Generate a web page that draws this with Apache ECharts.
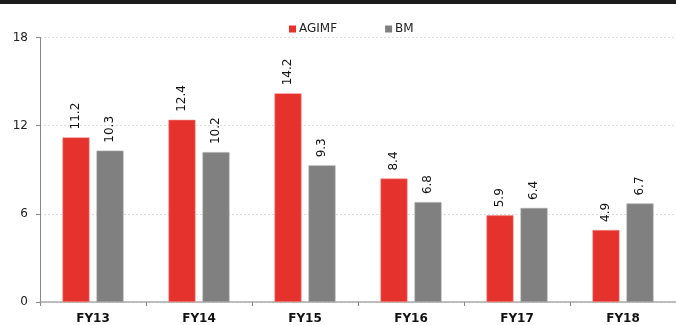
<!DOCTYPE html>
<html>
<head>
<meta charset="utf-8">
<script src="https://cdn.jsdelivr.net/npm/echarts@6/dist/echarts.min.js"></script>
<style>
  html, body { margin: 0; padding: 0; background: #fff; }
  #chart { width: 676px; height: 325px; }
</style>
</head>
<body>
<div id="chart"></div>
<script>
// Fiscal years on the category axis
const categories = ['FY13', 'FY14', 'FY15', 'FY16', 'FY17', 'FY18'];
// Series values
const agimf = [11.2, 12.4, 14.2, 8.4, 5.9, 4.9];
const bm = [10.3, 10.2, 9.3, 6.8, 6.4, 6.7];
// Value axis ticks
const yTicks = [0, 6, 12, 18];

const FONT = '"DejaVu Sans", Verdana, sans-serif';

const chart = echarts.init(document.getElementById('chart'), null, { renderer: 'canvas' });

const valueLabel = {
  show: true,
  position: 'top',
  rotate: 90,
  align: 'left',
  verticalAlign: 'middle',
  distance: 8,
  color: '#111',
  fontSize: 12,
  fontFamily: FONT,
  formatter: p => p.value.toFixed(1)
};

chart.setOption({
  animation: false,
  graphic: [{
    type: 'rect',
    shape: { x: 0, y: 0, width: 676, height: 4 },
    style: { fill: '#1c1c1c' },
    silent: true
  }],
  legend: {
    left: 284,
    top: 18,
    itemWidth: 7,
    itemHeight: 7,
    itemGap: 48,
    icon: 'rect',
    itemStyle: { borderWidth: 0 },
    textStyle: { fontFamily: FONT, fontSize: 12, color: '#222', padding: [0, 0, 0, -2] },
    data: ['AGIMF', 'BM']
  },
  grid: { left: 40, top: 37.5, width: 642, height: 264.5, containLabel: false },
  xAxis: {
    type: 'category',
    data: categories,
    axisLine: { lineStyle: { color: '#aaa', width: 1.5 } },
    axisTick: { show: true, length: 4, lineStyle: { color: '#888' } },
    axisLabel: {
      fontFamily: FONT, fontSize: 12, fontWeight: 'bold', color: '#111', margin: 11
    }
  },
  yAxis: {
    type: 'value',
    min: yTicks[0],
    max: yTicks[yTicks.length - 1],
    interval: yTicks[1] - yTicks[0],
    axisLine: { show: true, lineStyle: { color: '#888' } },
    axisTick: { show: true, length: 4, lineStyle: { color: '#888' } },
    axisLabel: { fontFamily: FONT, fontSize: 12, color: '#222', margin: 12 },
    splitLine: { lineStyle: { color: '#dcdcdc', type: [2, 2] } }
  },
  series: [
    {
      name: 'AGIMF',
      type: 'bar',
      data: agimf,
      barWidth: 27,
      barGap: '26%',
      itemStyle: { color: '#e5322d', borderColor: '#f08a86', borderWidth: 0.6 },
      label: valueLabel
    },
    {
      name: 'BM',
      type: 'bar',
      data: bm,
      barWidth: 27,
      barGap: '26%',
      itemStyle: { color: '#808080', borderColor: '#a8a8a8', borderWidth: 0.6 },
      label: valueLabel
    }
  ]
});
</script>
</body>
</html>
